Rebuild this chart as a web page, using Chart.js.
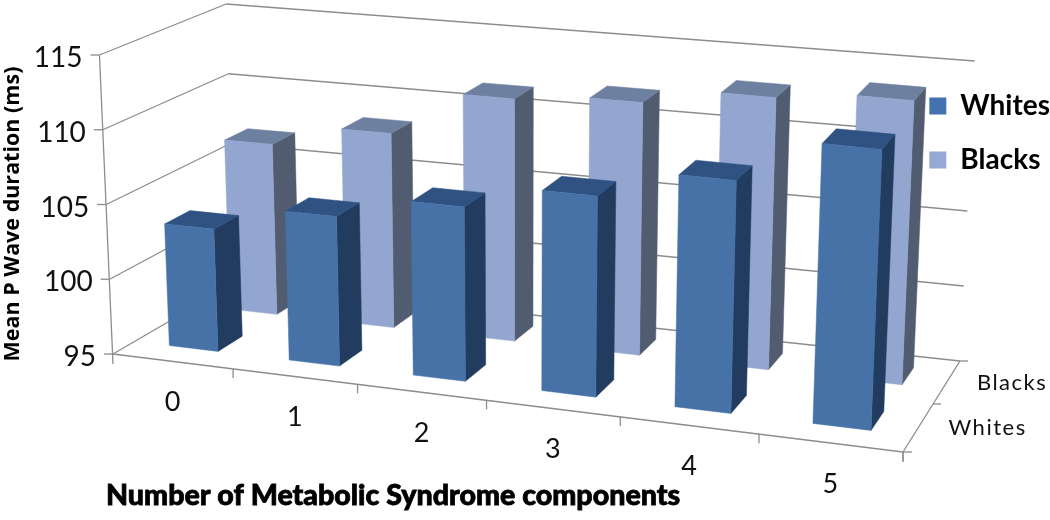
<!DOCTYPE html>
<html>
<head>
<meta charset="utf-8">
<script src="https://cdn.jsdelivr.net/npm/chart.js@4"></script>
<style>
  body { margin: 0; background: white; }
  canvas { display: block; }
</style>
</head>
<body>
<canvas id="myChart" width="1050" height="520"></canvas>
<script>
const categories = ["0", "1", "2", "3", "4", "5"];
const rows = ["Whites", "Blacks"];
const whites = [103.2, 104.9, 106.4, 108, 109.9, 112.8];
const blacks = [106.8, 108.3, 111.4, 111.9, 113, 113.6];
const yTicks = [95, 100, 105, 110, 115];
const xTitle = "Number of Metabolic Syndrome components";
const yTitle = "Mean P Wave duration (ms)";

// the box the chart sits in, as drawn on the page
const floorQuad = [[113, 354], [903, 452], [960, 361], [235, 283]];
const ceilQuad = [[99, 55], [913, 132], [971, 61], [223, 4]];
const barDepth = 0.2;
const depthShift = 0.015;
const spreadU = 0.035;
const leanX = 520;
const leanDist = 9000;
const gridColor = "#8c8c8c";
const faces = {
  Whites: { front: "#4672a8", side: "#213c5f", top: "#2f5282" },
  Blacks: { front: "#92a6cf", side: "#515c70", top: "#6d80a0" },
};

// unit square -> quad
function quadMap(q) {
  const [[x0, y0], [x1, y1], [x2, y2], [x3, y3]] = q;
  const sx = x0 - x1 + x2 - x3, sy = y0 - y1 + y2 - y3;
  const dx1 = x1 - x2, dx2 = x3 - x2, dy1 = y1 - y2, dy2 = y3 - y2;
  const den = dx1 * dy2 - dx2 * dy1;
  const g = (sx * dy2 - dx2 * sy) / den;
  const h = (dx1 * sy - sx * dy1) / den;
  const a = x1 - x0 + g * x1, b = x3 - x0 + h * x3;
  const d = y1 - y0 + g * y1, e = y3 - y0 + h * y3;
  return (u, v) => {
    const w = g * u + h * v + 1;
    return [(a * u + b * v + x0) / w, (d * u + e * v + y0) / w];
  };
}
const floorMap = quadMap(floorQuad);
const ceilMap = quadMap(ceilQuad);

// u along the categories, w into the depth, t up the value axis (all 0..1)
function project(u, w, t) {
  const us = u + spreadU * u * (1 - u);
  const a = floorMap(us, w), b = ceilMap(us, w);
  const y = a[1] + (b[1] - a[1]) * t;
  // uprights lean away from the middle of the picture
  const x = a[0] + ((a[0] - leanX) * (a[1] - y)) / leanDist;
  return [x, y];
}
function normU(chart, px) {
  return (px - chart.chartArea.left) / chart.chartArea.width;
}
function normT(chart, px) {
  return (chart.chartArea.bottom - px) / chart.chartArea.height;
}
function poly(ctx, pts, color) {
  ctx.fillStyle = color;
  ctx.strokeStyle = color;
  ctx.lineWidth = 0.5;
  ctx.beginPath();
  pts.forEach((p, i) => (i ? ctx.lineTo(p[0], p[1]) : ctx.moveTo(p[0], p[1])));
  ctx.closePath();
  ctx.fill();
  ctx.stroke();
}
function seg(ctx, a, b) {
  ctx.beginPath();
  ctx.moveTo(a[0], a[1]);
  ctx.lineTo(b[0], b[1]);
  ctx.stroke();
}

// bars keep the library's own scales, only the painting goes through project()
class Bar3D extends Chart.BarController {
  draw() {
    const chart = this.chart, ctx = chart.ctx;
    const meta = this.getMeta();
    const look = faces[meta.label];
    const zScale = chart.scales.z;
    const wMid = normU(chart, zScale.getPixelForValue(this.index)) + depthShift;
    const w0 = wMid - barDepth / 2, w1 = wMid + barDepth / 2;
    meta.data.forEach((bar) => {
      const uL = normU(chart, bar.x - bar.width / 2);
      const uR = normU(chart, bar.x + bar.width / 2);
      const t0 = 0, t1 = normT(chart, bar.y);
      poly(ctx, [project(uR, w0, t0), project(uR, w1, t0), project(uR, w1, t1), project(uR, w0, t1)], look.side);
      poly(ctx, [project(uL, w0, t1), project(uR, w0, t1), project(uR, w1, t1), project(uL, w1, t1)], look.top);
      poly(ctx, [project(uL, w0, t0), project(uR, w0, t0), project(uR, w0, t1), project(uL, w0, t1)], look.front);
    });
  }
}
Bar3D.id = "bar3d";
Bar3D.defaults = Chart.BarController.defaults;
Chart.register(Bar3D);

const box3d = {
  id: "box3d",
  beforeDraw(chart) {
    const ctx = chart.ctx, x = chart.scales.x, y = chart.scales.y, z = chart.scales.z;
    ctx.save();
    ctx.strokeStyle = gridColor;
    ctx.lineWidth = 1.3;
    yTicks.forEach((v) => {
      const t = normT(chart, y.getPixelForValue(v));
      const p = project(0, 0, t), q = project(0, 1, t), r = project(1, 1, t);
      seg(ctx, [p[0] - 9, p[1]], p);
      seg(ctx, p, q);
      seg(ctx, q, r);
      ctx.fillStyle = "#111";
      ctx.font = "28px Lato";
      ctx.textAlign = "right";
      ctx.textBaseline = "middle";
      ctx.fillText(String(v), p[0] - 17, p[1] + 3);
    });
    // axis edges
    seg(ctx, project(0, 0, 1), [project(0, 0, 0)[0], project(0, 0, 0)[1] + 10]);
    seg(ctx, project(0, 0, 0), project(1, 0, 0));
    seg(ctx, project(1, 0, 0), project(1, 1, 0));
    categories.forEach((c, i) => {
      const u = normU(chart, x.getPixelForValue(i + 0.5));
      const p = project(u, 0, 0);
      seg(ctx, p, [p[0], p[1] + 9]);
      const m = project(normU(chart, x.getPixelForValue(i)), 0, 0);
      ctx.fillStyle = "#111";
      ctx.font = "27px Lato";
      ctx.textAlign = "center";
      ctx.textBaseline = "middle";
      ctx.fillText(c, m[0], m[1] + 41);
    });
    rows.forEach((r, i) => {
      const edge = project(1, (i + 1) / rows.length, 0);
      seg(ctx, edge, [edge[0] + 8, edge[1]]);
      const m = project(1, normU(chart, z.getPixelForValue(i)), 0);
      ctx.fillStyle = "#111";
      ctx.font = "22px Lato";
      ctx.textAlign = "left";
      ctx.textBaseline = "middle";
      ctx.letterSpacing = "1.5px";
      ctx.fillText(r, m[0] + 30, m[1] + 1);
      ctx.letterSpacing = "0px";
    });
    const corner = project(1, 0, 0);
    seg(ctx, corner, [corner[0] + 9, corner[1]]);
    seg(ctx, corner, [corner[0], corner[1] + 10]);
    // legend sits on a white box that hides the wall lines
    ctx.fillStyle = "white";
    ctx.fillRect(923, 85, 127, 100);
    ctx.fillStyle = "#000";
    ctx.strokeStyle = "#000";
    ctx.textAlign = "left";
    ctx.textBaseline = "middle";
    ctx.font = "900 28.6px Lato";
    ctx.lineWidth = 0.8;
    ctx.fillText(xTitle, 106, 496);
    ctx.strokeText(xTitle, 106, 496);
    ctx.translate(13, 214);
    ctx.rotate(-Math.PI / 2);
    ctx.textAlign = "center";
    ctx.font = "bold 21.5px 'Open Sans'";
    ctx.fillText(yTitle, 0, 0);
    ctx.restore();
  },
};

const ctx = document.getElementById("myChart");
new Chart(ctx, {
  type: "bar3d",
  data: {
    labels: categories,
    datasets: [
      { label: rows[0], data: whites, backgroundColor: "#4472b0", borderWidth: 0, clip: false },
      { label: rows[1], data: blacks, backgroundColor: "#96a9d3", borderWidth: 0, clip: false },
    ],
  },
  options: {
    responsive: false,
    animation: false,
    grouped: false,
    categoryPercentage: 1,
    barPercentage: 0.41,
    layout: { padding: { top: 66, right: -10 } },
    plugins: {
      tooltip: { enabled: false },
      legend: {
        position: "right",
        align: "start",
        labels: {
          boxWidth: 17,
          boxHeight: 17,
          padding: 26,
          color: "#000",
          font: { family: "Lato", size: 28, weight: "bold" },
        },
      },
    },
    scales: {
      x: { display: false, offset: true },
      z: { type: "category", axis: "x", labels: rows, display: false, offset: true },
      y: { display: false, min: 95, max: 115 },
    },
  },
  plugins: [box3d],
});
</script>
</body>
</html>
